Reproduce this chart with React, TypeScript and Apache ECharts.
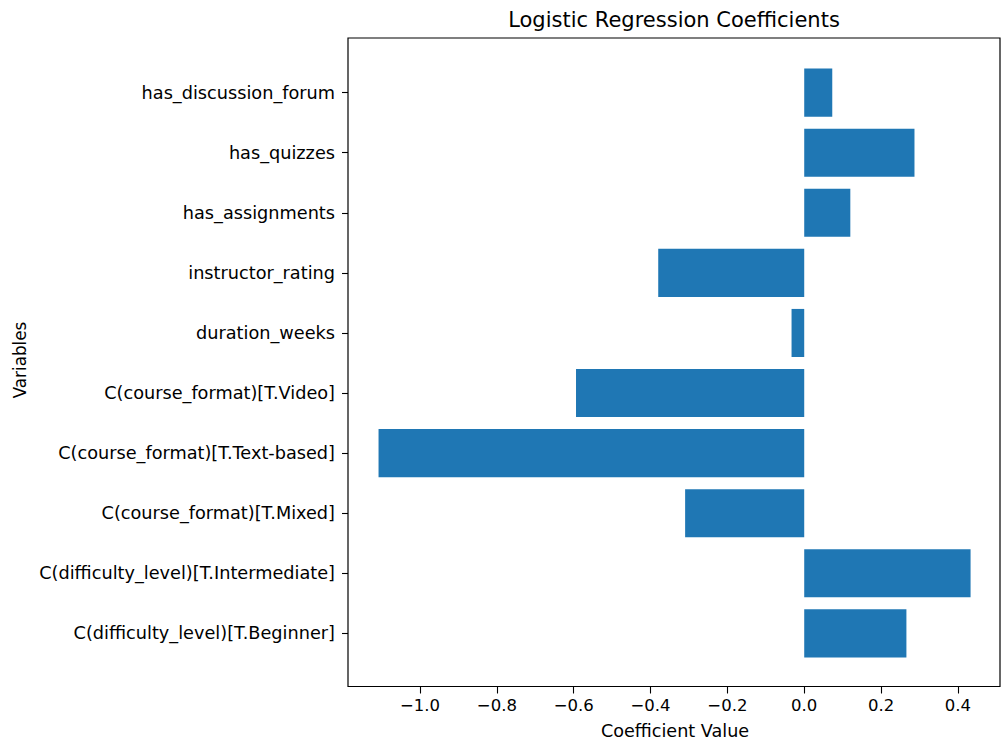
import React, { useEffect, useRef } from "react";
import * as echarts from "echarts";

const categories = [
  "C(difficulty_level)[T.Beginner]",
  "C(difficulty_level)[T.Intermediate]",
  "C(course_format)[T.Mixed]",
  "C(course_format)[T.Text-based]",
  "C(course_format)[T.Video]",
  "duration_weeks",
  "instructor_rating",
  "has_assignments",
  "has_quizzes",
  "has_discussion_forum",
];
const coefficients = [0.266, 0.433, -0.31, -1.108, -0.594, -0.033, -0.38, 0.12, 0.287, 0.073];
const xTicks = [-1.0, -0.8, -0.6, -0.4, -0.2, 0.0, 0.2, 0.4];

const FONT = "DejaVu Sans";

export default function App() {
  const ref = useRef<HTMLDivElement>(null);
  useEffect(() => {
    if (!ref.current) return;
    const chart = echarts.init(ref.current, null, { renderer: "svg" });
    const left = 348;
    const right = 1000;
    const frameTop = 38;
    const frameBottom = 686.5;
    const band = 60.08;
    const gridTop = 62.6;
    const gridHeight = band * 10;
    const gridBottom = gridTop + gridHeight;
    const minX = -1.1875;
    const maxX = 0.5096;
    const fmt = (v: number) => (v < 0 ? "\u2212" : "") + Math.abs(v).toFixed(1);
    chart.setOption({
      animation: false,
      backgroundColor: "#ffffff",
      grid: { left, top: gridTop, width: right - left, height: gridHeight, containLabel: false },
      xAxis: {
        type: "value",
        min: minX,
        max: maxX,
        offset: frameBottom - gridBottom,
        axisLine: { show: false, onZero: false },
        splitLine: { show: false },
        axisTick: { show: true, length: 7, customValues: xTicks, lineStyle: { color: "#000", width: 1.1 } },
        axisLabel: {
          customValues: xTicks,
          formatter: fmt,
          color: "#000",
          fontFamily: FONT,
          fontSize: 16.5,
          margin: 10,
        },
      },
      yAxis: {
        type: "category",
        data: categories,
        axisLine: { show: false, onZero: false },
        axisTick: { show: true, length: 6, alignWithLabel: true, lineStyle: { color: "#000", width: 1.1 } },
        axisLabel: { color: "#000", fontFamily: FONT, fontSize: 17.7, margin: 13 },
        splitLine: { show: false },
      },
      series: [
        {
          type: "bar",
          data: coefficients,
          barWidth: "80%",
          itemStyle: { color: "#1f77b4" },
        },
      ],
      graphic: [
        {
          type: "rect",
          shape: { x: left, y: frameTop, width: right - left, height: frameBottom - frameTop },
          style: { fill: "none", stroke: "#000", lineWidth: 1.2 },
          z: 100,
        },
        {
          type: "text",
          x: (left + right) / 2,
          y: 20,
          style: {
            text: "Logistic Regression Coefficients",
            fontFamily: FONT,
            fontSize: 21,
            fill: "#000",
            align: "center",
            verticalAlign: "middle",
          },
        },
        {
          type: "text",
          x: 675,
          y: 731,
          style: {
            text: "Coefficient Value",
            fontFamily: FONT,
            fontSize: 17.6,
            fill: "#000",
            align: "center",
            verticalAlign: "middle",
          },
        },
        {
          type: "text",
          x: 20,
          y: 360,
          rotation: Math.PI / 2,
          style: {
            text: "Variables",
            fontFamily: FONT,
            fontSize: 16.8,
            fill: "#000",
            align: "center",
            verticalAlign: "middle",
          },
        },
      ],
    });
    return () => chart.dispose();
  }, []);
  return (
    <div
      ref={ref}
      style={{ position: "absolute", left: 0, top: 0, width: 1001, height: 742, background: "#fff" }}
    />
  );
}
